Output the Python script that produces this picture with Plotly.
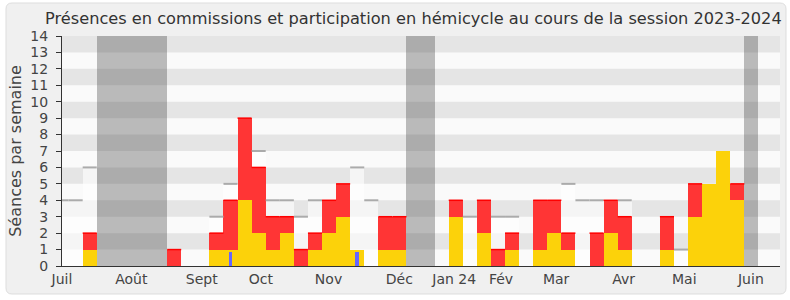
import plotly.graph_objects as go

# ---------------- data ----------------
weeks = list(range(-1, 51))  # week index, tick k at x=k
total = [0, 0, 2, 0, 0, 0, 0, 0, 1, 0, 0, 2, 4, 9, 6, 3, 3, 1, 2, 4, 5, 1, 0, 3, 3, 0,
         0, 0, 4, 0, 4, 1, 2, 0, 4, 4, 2, 0, 2, 4, 3, 0, 0, 3, 0, 5, 5, 7, 5, 0, 0, 0]
commission = [0, 0, 1, 0, 0, 0, 0, 0, 0, 0, 0, 1, 1, 4, 2, 1, 2, 0, 1, 2, 3, 1, 0, 1, 1, 0,
              0, 0, 3, 0, 2, 0, 1, 0, 1, 2, 1, 0, 0, 2, 1, 0, 0, 1, 0, 3, 5, 7, 4, 0, 0, 0]
reference = [4, 4, 6, 0, 0, 0, 0, 0, 0, 0, 0, 3, 5, 0, 7, 4, 4, 3, 4, 0, 0, 6, 4, 0, 0, 0,
             0, 0, 0, 3, 0, 3, 3, 0, 0, 0, 5, 4, 4, 0, 4, 0, 0, 0, 1, 0, 0, 0, 0, 0, 0, 0]
questions = [0, 0, 0, 0, 0, 0, 0, 0, 0, 0, 0, 0, 0.85, 0, 0, 0, 0, 0, 0, 0, 0, 0.85, 0, 0, 0, 0,
             0, 0, 0, 0, 0, 0, 0, 0, 0, 0, 0, 0, 0, 0, 0, 0, 0, 0, 0, 0, 0, 0, 0, 0, 0, 0]
vacation_weeks = [2, 3, 4, 5, 6, 24, 25, 48]

month_labels = ["Juil", "Août", "Sept", "Oct", "Nov", "Déc", "Jan 24", "Fév", "Mar", "Avr", "Mai", "Juin"]
month_pos = [0.0, 4.92, 9.93, 14.13, 18.93, 23.96, 27.86, 31.18, 35.1, 39.9, 44.2, 48.93]

title_text = "Présences en commissions et participation en hémicycle au cours de la session 2023-2024"
y_title = "Séances par semaine"

# ---------------- geometry/styles ----------------
OFFSET = 0.969   # bar centre relative to its week tick
W, H = 790, 300
L, R, T, B = 62, 10, 36, 34
FONT = "DejaVu Sans"

xc = [w + OFFSET for w in weeks]

def segments(values, cond=None):
    xs, ys = [], []
    for i, (x, v) in enumerate(zip(xc, values)):
        if v > 0 and (cond is None or cond(i)):
            xs += [x - 0.5, x + 0.5, None]
            ys += [v, v, None]
    return xs, ys

fig = go.Figure()

# vacation periods
fig.add_trace(go.Bar(x=[w + OFFSET for w in vacation_weeks], y=[14] * len(vacation_weeks),
                     width=1, marker=dict(color="rgba(40,40,40,0.3)", line=dict(width=0)),
                     hoverinfo="skip", showlegend=False))
# reference (light) bars
fig.add_trace(go.Bar(x=xc, y=reference, width=1,
                     marker=dict(color="rgba(255,255,255,0.6)", line=dict(width=0)),
                     showlegend=False))
# total (red)
fig.add_trace(go.Bar(x=xc, y=total, width=1,
                     marker=dict(color="#FF3535", line=dict(width=0)), showlegend=False))
# commission (yellow)
fig.add_trace(go.Bar(x=xc, y=commission, width=1,
                     marker=dict(color="#FCD20A", line=dict(width=0)), showlegend=False))
# questions (blue, thin)
fig.add_trace(go.Bar(x=xc, y=questions, width=0.28,
                     marker=dict(color="#6666FF", line=dict(width=0)), showlegend=False))

# grey top lines of reference bars
sx, sy = segments(reference, cond=lambda i: reference[i] > total[i])
fig.add_trace(go.Scatter(x=sx, y=sy, mode="lines", line=dict(color="#ABABAB", width=2),
                         hoverinfo="skip", showlegend=False))
# red top edge
rx, ry = segments(total, cond=lambda i: total[i] > commission[i])
fig.add_trace(go.Scatter(x=rx, y=ry, mode="lines", line=dict(color="#FF0000", width=1.5),
                         hoverinfo="skip", showlegend=False))

shapes = []
# rounded frame (in paper coordinates computed from pixels)
pw, ph = W - L - R, H - T - B
def px(x): return (x - L) / pw
def py(y): return (H - B - y) / ph
x0, x1, y0, y1, r = 6, 786, 3, 294, 6
path = (f"M {px(x0 + r)} {py(y0)} L {px(x1 - r)} {py(y0)} Q {px(x1)} {py(y0)} {px(x1)} {py(y0 + r)} "
        f"L {px(x1)} {py(y1 - r)} Q {px(x1)} {py(y1)} {px(x1 - r)} {py(y1)} "
        f"L {px(x0 + r)} {py(y1)} Q {px(x0)} {py(y1)} {px(x0)} {py(y1 - r)} "
        f"L {px(x0)} {py(y0 + r)} Q {px(x0)} {py(y0)} {px(x0 + r)} {py(y0)} Z")
shapes.append(dict(type="path", xref="paper", yref="paper", path=path,
                   fillcolor="#F0F0F0", line=dict(color="#DDDDDD", width=1), layer="below"))
# plot background
shapes.append(dict(type="rect", xref="paper", yref="paper", x0=0, x1=1, y0=0, y1=1,
                   fillcolor="#FAFAFA", line=dict(width=0), layer="below"))
# alternating horizontal bands
for k in range(1, 14, 2):
    shapes.append(dict(type="rect", xref="paper", yref="y", x0=0, x1=1, y0=k, y1=k + 1,
                       fillcolor="#E5E5E5", line=dict(width=0), layer="below"))

fig.update_layout(
    width=W, height=H,
    margin=dict(l=L, r=R, t=T, b=B, pad=0),
    paper_bgcolor="white",
    plot_bgcolor="rgba(0,0,0,0)",
    barmode="overlay",
    bargap=0,
    showlegend=False,
    font=dict(family=FONT, color="#333333", size=14),
    title=dict(text=title_text, x=45 / W, xanchor="left", xref="container",
               y=1 - 18 / H, yanchor="middle", yref="container",
               font=dict(family=FONT, size=16.2, color="#333333")),
    shapes=shapes,
    xaxis=dict(range=[0, 51], tickmode="array", tickvals=month_pos, ticktext=month_labels,
               ticks="", showgrid=False, zeroline=False, showline=True,
               linecolor="#333333", linewidth=1, tickfont=dict(size=14, color="#444444"),
               fixedrange=True),
    xaxis3=dict(range=[0, 51], overlaying="x", anchor="y", side="bottom",
                tickmode="linear", tick0=0, dtick=1, ticks="outside", ticklen=5,
                tickcolor="#333333", showticklabels=False, showgrid=False,
                zeroline=False, showline=False),
    xaxis2=dict(range=[0, 51], overlaying="x", anchor="y", side="top",
                tickmode="linear", tick0=0, dtick=1, ticks="outside", ticklen=2,
                tickcolor="#555555", showticklabels=False, showgrid=False,
                zeroline=False, showline=False),
    yaxis=dict(range=[0, 14], tickmode="linear", tick0=0, dtick=1, ticks="outside",
               ticklen=5, tickcolor="#333333", showline=True, linecolor="#333333",
               linewidth=1, showgrid=False, zeroline=False, ticklabelstandoff=5,
               tickfont=dict(size=14, color="#444444"),
               title=dict(text=y_title, font=dict(size=16, color="#444444"), standoff=4)),
)

fig.write_html("out.html")
